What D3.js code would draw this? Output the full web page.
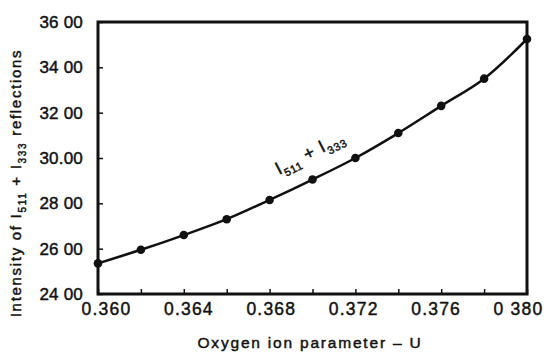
<!DOCTYPE html>
<html><head><meta charset="utf-8">
<script src="https://cdn.jsdelivr.net/npm/d3@7"></script>
<style>
body{margin:0;background:#fff;}
text{font-family:"Liberation Sans",Arial,sans-serif;fill:#111;stroke:#111;stroke-width:0.45px;}
</style></head>
<body><svg id="c" width="546" height="353"></svg>
<script>
const uValues = [0.360,0.362,0.364,0.366,0.368,0.370,0.372,0.374,0.376,0.378,0.380];
const intensity = [25.35,25.95,26.6,27.3,28.15,29.05,30.0,31.1,32.3,33.5,35.25];
const xTickValues = [0.360,0.364,0.368,0.372,0.376,0.380];
const xTickLabels = ["0.360","0.364","0.368","0.372","0.376","0 380"];
const yTickValues = [24,26,28,30,32,34,36];
const yTickLabels = ["24 00","26 00","28 00","30.00","32 00","34 00","36 00"];
const xMinorTicks = uValues;

const svg = d3.select("#c");
const L=98, T=22, R=527, B=294;
const x = d3.scaleLinear().domain([0.360,0.380]).range([L,R]);
const y = d3.scaleLinear().domain([24,36]).range([B,T]);
// labels in the scan sit slightly off the ticks
const xLab = d3.scaleLinear().domain([0.360,0.380]).range([106,518]);

// inward ticks
const gx = svg.append("g").attr("transform",`translate(0,${B})`)
  .call(d3.axisTop(x).tickValues(xMinorTicks).tickSize(5).tickFormat(""));
gx.select(".domain").remove();
gx.selectAll("line").attr("stroke","#111").attr("stroke-width",1.5);
const gy = svg.append("g").attr("transform",`translate(${L},0)`)
  .call(d3.axisRight(y).tickValues(yTickValues).tickSize(5).tickFormat(""));
gy.select(".domain").remove();
gy.selectAll("line").attr("stroke","#111").attr("stroke-width",1.5);

// tick labels
const gxl = svg.append("g").attr("transform",`translate(0,${B+2})`)
  .call(d3.axisBottom(xLab).tickValues(xTickValues).tickSize(0)
    .tickFormat((d,i)=>xTickLabels[i]));
gxl.select(".domain").remove();
gxl.selectAll("text").attr("font-size",17.5).attr("letter-spacing",1.2)
  .attr("dy","0.9em").style("font-family","'Liberation Sans',Arial,sans-serif")
  .attr("fill","#111");

const gyl = svg.append("g").attr("transform",`translate(${L-12},0)`)
  .call(d3.axisLeft(y).tickValues(yTickValues).tickSize(0)
    .tickFormat((d,i)=>yTickLabels[i]));
gyl.select(".domain").remove();
gyl.selectAll("text").attr("font-size",17).attr("letter-spacing",0.2)
  .style("font-family","'Liberation Sans',Arial,sans-serif").attr("fill","#111");

// frame
svg.append("rect").attr("x",L).attr("y",T).attr("width",R-L).attr("height",B-T)
  .attr("fill","none").attr("stroke","#111").attr("stroke-width",3);

// curve
const pts = uValues.map((u,i)=>[u,intensity[i]]);
svg.append("path").datum(pts)
  .attr("d",d3.line().x(d=>x(d[0])).y(d=>y(d[1])).curve(d3.curveCatmullRom))
  .attr("fill","none").attr("stroke","#111").attr("stroke-width",2.5);
svg.selectAll("circle.pt").data(pts).enter().append("circle")
  .attr("cx",d=>x(d[0])).attr("cy",d=>y(d[1])).attr("r",4.3).attr("fill","#111");

// curve label
const cl = svg.append("text").attr("transform","translate(279,175) rotate(-27)")
  .attr("font-size",18).attr("letter-spacing",0.8);
cl.append("tspan").text("I");
cl.append("tspan").attr("font-size",11).attr("dy",5).text("511");
cl.append("tspan").attr("dy",-5).text(" + I");
cl.append("tspan").attr("font-size",11).attr("dy",5).text("333");

// y axis title
const yt = svg.append("text").attr("transform","translate(21,183) rotate(-90)")
  .attr("text-anchor","middle").attr("font-size",15).attr("letter-spacing",1.7);
yt.append("tspan").text("Intensity of I");
yt.append("tspan").attr("font-size",10).attr("dy",5).text("511");
yt.append("tspan").attr("dy",-5).text(" + I");
yt.append("tspan").attr("font-size",10).attr("dy",5).text("333");
yt.append("tspan").attr("dy",-5).text(" reflections");

// x axis title
svg.append("text").attr("x",310).attr("y",348).attr("text-anchor","middle")
  .attr("font-size",15.5).attr("letter-spacing",1.8).text("Oxygen ion parameter \u2013 U");
</script></body></html>
